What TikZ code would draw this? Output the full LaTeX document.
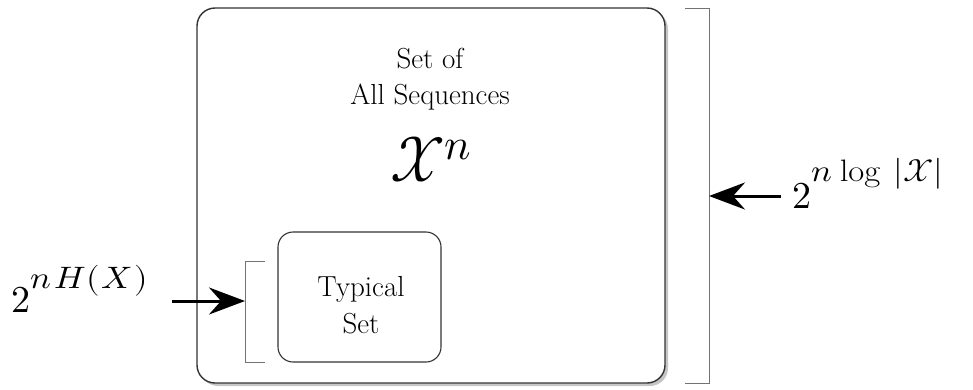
\documentclass[tikz,border=0pt]{standalone}
\usepackage{unicode-math}
\setmathfont{Latin Modern Math}
\usetikzlibrary{shadows,arrows.meta}
\begin{document}
\begin{tikzpicture}[x=1pt,y=-1pt,
  bigbox/.style={draw=black!80,line width=1.4pt,rounded corners=18pt,fill=white,
    minimum width=468pt,minimum height=375pt,
    drop shadow={shadow xshift=3pt,shadow yshift=-3pt,opacity=0.45}},
  smallbox/.style={draw=black!80,line width=1.1pt,rounded corners=15pt,
    minimum width=163pt,minimum height=130pt},
  bracket/.style={draw=black!55,line width=1pt},
  arrow/.style={line width=3pt,-{Stealth[length=36pt,width=27pt,inset=12pt]}},
  txt/.style={align=center,inner sep=0pt,font=\fontsize{29}{36.5}\selectfont},
  lab/.style={inner sep=0pt,font=\fontsize{38}{48}\selectfont}
]
\useasboundingbox (0,0) rectangle (973,389);
\node[bigbox] (all) at (431,195.5) {};
\node[txt] (title) at (430,79) {Set of\\All Sequences};
\node[inner sep=0pt,font=\fontsize{63}{72}\selectfont] (xn) at (431,160) {$\mathcal{X}^{n}$};
\node[smallbox] (typ) at (359.5,297) {};
\node[txt] (typtxt) at (361,305) {Typical\\Set};
% left bracket
\draw[bracket] (265,261) -- (245,261) -- (245,362) -- (265,362);
\coordinate (lb) at (245,301);
% right bracket
\draw[bracket] (685,8) -- (709,8) -- (709,383) -- (685,383);
\coordinate (rb) at (709,196);
% labels
\node[lab,anchor=base west] (lh) at (11,312)
  {$2$\raisebox{24pt}{\fontsize{31}{40}\selectfont\scalebox{1.12}[1]{$n\mkern2mu H(\mkern1mu X\mkern1mu)$}}};
\node[lab,anchor=base west] (lr) at (792,208)
  {$2$\raisebox{27pt}{\fontsize{31}{40}\selectfont\scalebox{1.12}[1]{$n\mkern1mu\log\mkern4mu|\mathcal{X}|$}}};
\coordinate (la) at (172,301);
\coordinate (ra) at (781,196);
\draw[arrow] (la) -- (lb);
\draw[arrow] (ra) -- (rb);
\end{tikzpicture}
\end{document}
